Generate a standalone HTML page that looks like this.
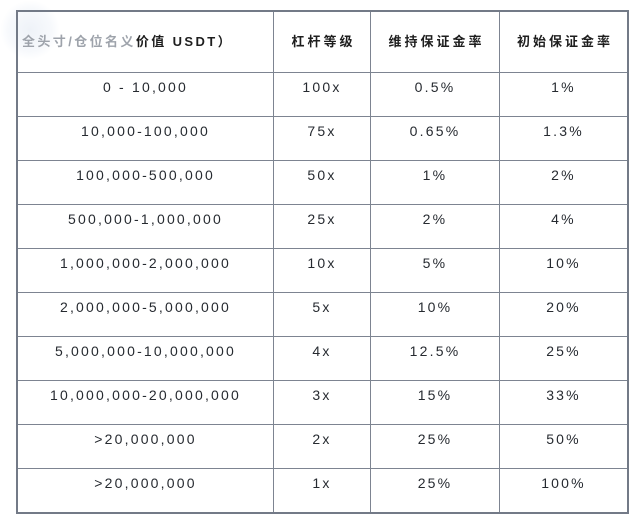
<!DOCTYPE html>
<html>
<head>
<meta charset="utf-8">
<style>
html,body{margin:0;padding:0;background:#fff;}
body{width:639px;height:520px;position:relative;overflow:hidden;}
.box{position:absolute;left:16px;top:10px;width:609px;height:500px;border:2px solid #737a87;}
.h{position:absolute;left:18px;width:609px;height:1px;background:#7d8491;}
.v{position:absolute;top:12px;height:500px;width:1px;background:#7d8491;}
.t{position:absolute;height:20px;line-height:20px;text-align:center;white-space:nowrap;
  font-family:"Liberation Sans","Noto Sans CJK SC",sans-serif;font-size:14px;letter-spacing:2.2px;color:#262a30;}
.hd{position:absolute;top:32px;height:20px;line-height:20px;text-align:center;white-space:nowrap;
  font-family:"Liberation Sans","Noto Sans CJK SC",sans-serif;font-size:13px;font-weight:bold;letter-spacing:3px;color:#1e1e1e;}
.c1{left:18px;width:255px;}
.c2{left:274px;width:96px;}
.c3{left:371px;width:128px;}
.c4{left:500px;width:127px;}
.wm{position:absolute;left:0;top:0;width:60px;height:60px;border-radius:50%;background:radial-gradient(circle,#eef2f8 0%,#f7f9fc 50%,rgba(255,255,255,0) 70%);}
</style>
</head>
<body>
<div class="wm"></div>
<div class="box"></div>
<div class="h" style="top:72px"></div>
<div class="h" style="top:116px"></div>
<div class="h" style="top:160px"></div>
<div class="h" style="top:204px"></div>
<div class="h" style="top:248px"></div>
<div class="h" style="top:292px"></div>
<div class="h" style="top:336px"></div>
<div class="h" style="top:380px"></div>
<div class="h" style="top:424px"></div>
<div class="h" style="top:468px"></div>
<div class="v" style="left:273px"></div>
<div class="v" style="left:370px"></div>
<div class="v" style="left:499px"></div>

<div class="hd" style="left:22px;width:240px;text-align:left;letter-spacing:2.4px;"><span style="color:#9ea3ab">全头寸/仓位名义</span>价值 USDT）</div>
<div class="hd c2" style="padding-left:3px;box-sizing:border-box;">杠杆等级</div>
<div class="hd c3" style="padding-left:3px;box-sizing:border-box;">维持保证金率</div>
<div class="hd c4" style="padding-left:3px;box-sizing:border-box;">初始保证金率</div>

<div class="t c1" style="top:77px">0 - 10,000</div><div class="t c2" style="top:77px">100x</div><div class="t c3" style="top:77px">0.5%</div><div class="t c4" style="top:77px">1%</div>
<div class="t c1" style="top:121px">10,000-100,000</div><div class="t c2" style="top:121px">75x</div><div class="t c3" style="top:121px">0.65%</div><div class="t c4" style="top:121px">1.3%</div>
<div class="t c1" style="top:165px">100,000-500,000</div><div class="t c2" style="top:165px">50x</div><div class="t c3" style="top:165px">1%</div><div class="t c4" style="top:165px">2%</div>
<div class="t c1" style="top:209px">500,000-1,000,000</div><div class="t c2" style="top:209px">25x</div><div class="t c3" style="top:209px">2%</div><div class="t c4" style="top:209px">4%</div>
<div class="t c1" style="top:253px">1,000,000-2,000,000</div><div class="t c2" style="top:253px">10x</div><div class="t c3" style="top:253px">5%</div><div class="t c4" style="top:253px">10%</div>
<div class="t c1" style="top:297px">2,000,000-5,000,000</div><div class="t c2" style="top:297px">5x</div><div class="t c3" style="top:297px">10%</div><div class="t c4" style="top:297px">20%</div>
<div class="t c1" style="top:341px">5,000,000-10,000,000</div><div class="t c2" style="top:341px">4x</div><div class="t c3" style="top:341px">12.5%</div><div class="t c4" style="top:341px">25%</div>
<div class="t c1" style="top:385px">10,000,000-20,000,000</div><div class="t c2" style="top:385px">3x</div><div class="t c3" style="top:385px">15%</div><div class="t c4" style="top:385px">33%</div>
<div class="t c1" style="top:429px">&gt;20,000,000</div><div class="t c2" style="top:429px">2x</div><div class="t c3" style="top:429px">25%</div><div class="t c4" style="top:429px">50%</div>
<div class="t c1" style="top:473px">&gt;20,000,000</div><div class="t c2" style="top:473px">1x</div><div class="t c3" style="top:473px">25%</div><div class="t c4" style="top:473px">100%</div>
</body>
</html>
